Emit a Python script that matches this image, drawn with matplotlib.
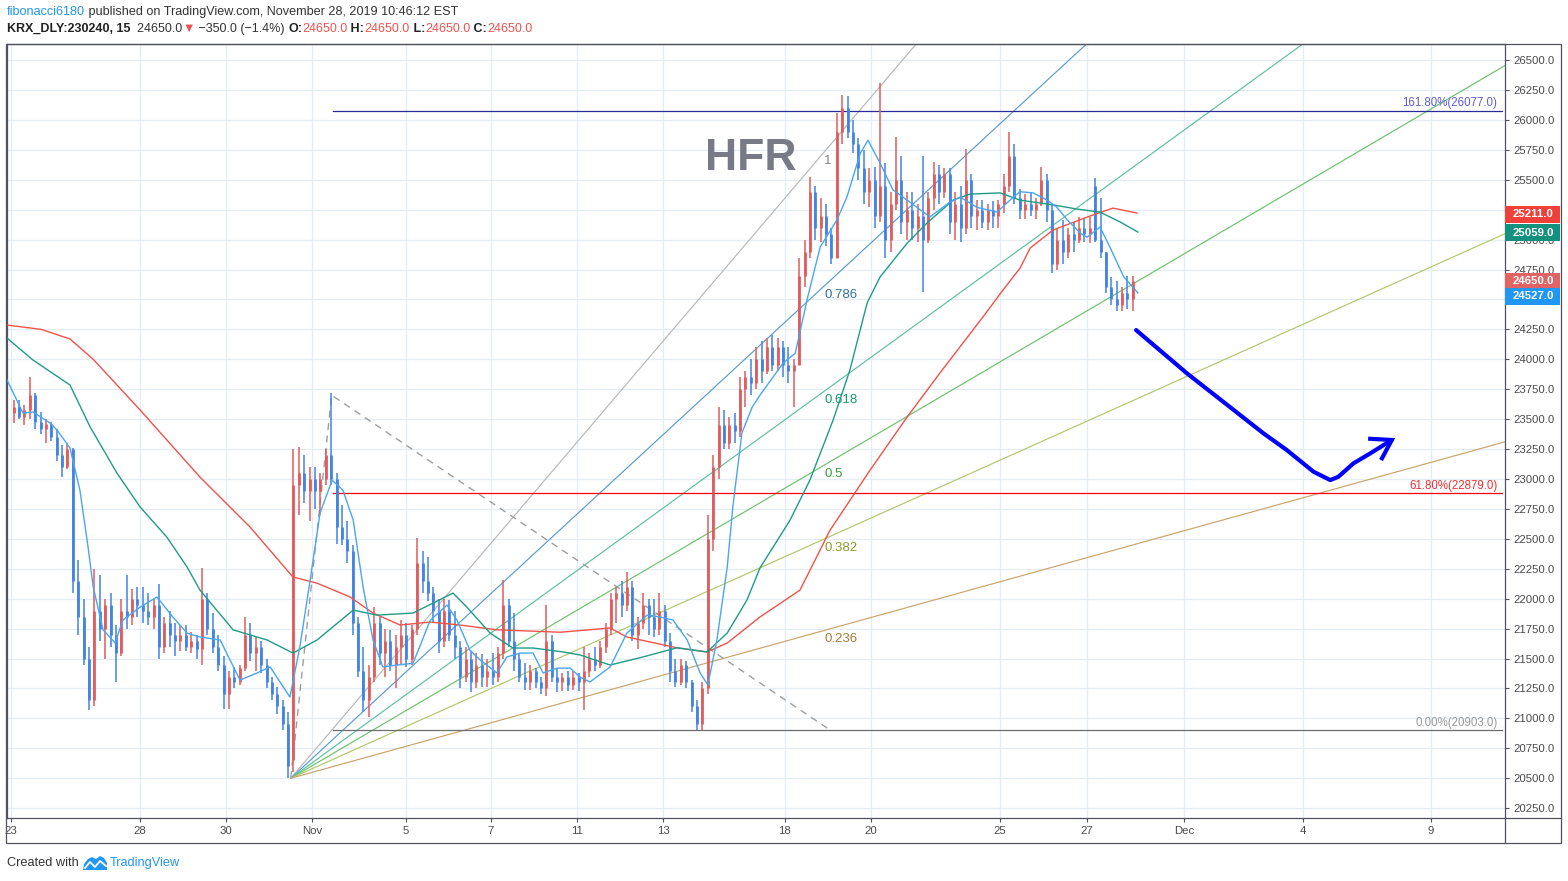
import numpy as np
import matplotlib
matplotlib.use("Agg")
import matplotlib.pyplot as plt
from matplotlib.patches import Rectangle, Polygon
from matplotlib.lines import Line2D
import matplotlib.transforms as mtransforms

plt.rcParams['font.family'] = ['Liberation Sans', 'DejaVu Sans']

# ---------------- data ----------------
bars_per_day = 8   # x unit = trading day (Oct 23 = 0)

opens = [
    23550, 23600, 23520, 23580, 23700, 23480, 23420, 23460,   # Oct 23
    23350, 23200, 23100, 23250, 22150, 21850, 21500, 21150,   # Oct 24
    21900, 21750, 21950, 21700, 21550, 21900, 21850, 22000,   # Oct 25
    21950, 21900, 21850, 21950, 21600, 21800, 21700, 21650,   # Oct 28
    21700, 21600, 21650, 21580, 22000, 21750, 21600, 21450,   # Oct 29
    21200, 21350, 21300, 21420, 21700, 21550, 21600, 21450,   # Oct 30
    21300, 21200, 21100, 20950, 20650, 22950, 23050, 22900,   # Oct 31
    23000, 22900, 23000, 23200, 23000, 22600, 22500, 22400,   # Nov 1
    21800, 21400, 21150, 21350, 21800, 21550, 21650, 21450,   # Nov 4
    21600, 21700, 21500, 21750, 22300, 22150, 22050, 21900,   # Nov 5
    21650, 21900, 21700, 21600, 21350, 21500, 21300, 21450,   # Nov 6
    21350, 21400, 21350, 21550, 21950, 21650, 21500, 21350,   # Nov 7
    21300, 21400, 21300, 21250, 21650, 21350, 21300, 21350,   # Nov 8
    21280, 21350, 21300, 21400, 21500, 21450, 21600, 21750,   # Nov 11
    22000, 22050, 21950, 22100, 21700, 21800, 21950, 21850,   # Nov 12
    21750, 21900, 21650, 21400, 21300, 21450, 21300, 21100,   # Nov 13
    20950, 21250, 22500, 23100, 23450, 23300, 23450, 23400,   # Nov 14
    23750, 23850, 23800, 24000, 23900, 24100, 23950, 24100,   # Nov 15
    23950, 23900, 23950, 24700, 24900, 25400, 25100, 25200,   # Nov 18
    25050, 24850, 25900, 26100, 25900, 25800, 25600, 25400,   # Nov 19
    25500, 25200, 25450, 25000, 25300, 25500, 25150, 25250,   # Nov 20
    25100, 25200, 25000, 25350, 25550, 25400, 25550, 25150,   # Nov 21
    25300, 25100, 25500, 25200, 25250, 25150, 25250, 25200,   # Nov 22
    25300, 25450, 25700, 25350, 25250, 25300, 25250, 25300,   # Nov 25
    25500, 25250, 24800, 25000, 24900, 25050, 25000, 25100,   # Nov 26
    25050, 25450, 25000, 24900, 24600, 24500, 24450, 24550,   # Nov 27
    24500,                                                    # Nov 28
]
highs = [
    23660, 23660, 23620, 23850, 23720, 23560, 23500, 23480,
    23420, 23280, 23300, 23260, 22320, 22000, 21600, 22250,
    22200, 22000, 22050, 21780, 22000, 22200, 22080, 22100,
    22100, 22050, 22000, 22120, 21850, 21900, 21800, 21780,
    21780, 21720, 21700, 22260, 22050, 21880, 21700, 21520,
    21400, 21430, 21450, 21850, 21800, 21680, 21650, 21500,
    21350, 21260, 21150, 21050, 23250, 23270, 23200, 23100,
    23100, 23050, 23250, 23720, 23050, 22780, 22650, 22450,
    21850, 21600, 21450, 21930, 21850, 21750, 21740, 21700,
    21820, 21800, 21780, 22510, 22400, 22350, 22100, 22000,
    22000, 21990, 21900, 21650, 21600, 21560, 21550, 21540,
    21500, 21550, 21600, 22160, 22000, 21880, 21550, 21460,
    21450, 21420, 21350, 21950, 21700, 21420, 21380, 21400,
    21400, 21380, 21600, 21550, 21600, 21650, 21800, 22050,
    22100, 22150, 22220, 22150, 21850, 22050, 22000, 22000,
    22050, 21950, 21710, 21500, 21500, 21480, 21320, 21150,
    21300, 22700, 23200, 23600, 23580, 23520, 23550, 23850,
    23900, 24000, 24100, 24150, 24180, 24200, 24180, 24150,
    24100, 24000, 24850, 25000, 25520, 25450, 25350, 25300,
    25100, 26060, 26210, 26200, 26000, 25850, 25750, 25600,
    25610, 26310, 25640, 25400, 25860, 25700, 25400, 25400,
    25300, 25700, 25400, 25650, 25620, 25600, 25600, 25400,
    25450, 25760, 25550, 25330, 25330, 25300, 25320, 25330,
    25550, 25900, 25800, 25420, 25380, 25400, 25350, 25610,
    25550, 25300, 25100, 25160, 25100, 25150, 25190, 25180,
    25190, 25515, 25350, 24900, 24690, 24650, 24600, 24700,
    24700,
]
lows = [
    23470, 23500, 23450, 23500, 23420, 23380, 23300, 23320,
    23150, 23020, 23080, 22050, 21700, 21450, 21070, 21100,
    21650, 21500, 21600, 21300, 21520, 21750, 21780, 21850,
    21800, 21780, 21750, 21500, 21550, 21600, 21520, 21560,
    21560, 21550, 21500, 21450, 21700, 21550, 21400, 21080,
    21080, 21250, 21280, 21400, 21480, 21400, 21380, 21250,
    21150, 21040, 20900, 20500, 20550, 22700, 22800, 22650,
    22750, 22700, 22950, 22950, 22460, 22450, 22300, 21700,
    21350, 21050, 21010, 21300, 21450, 21350, 21400, 21250,
    21450, 21430, 21450, 21700, 22050, 21980, 21800, 21550,
    21600, 21650, 21500, 21250, 21300, 21220, 21250, 21260,
    21260, 21280, 21300, 21500, 21600, 21400, 21300, 21240,
    21240, 21250, 21200, 21190, 21300, 21220, 21230, 21230,
    21240, 21230, 21070, 21350, 21400, 21420, 21550, 21700,
    21800, 21850, 21900, 21650, 21580, 21750, 21700, 21680,
    21700, 21600, 21300, 21260, 21280, 21250, 21050, 20900,
    20903, 21200, 22400, 23000, 23250, 23250, 23300, 23350,
    23600, 23700, 23750, 23800, 23880, 23900, 23900, 23850,
    23800, 23600, 23950, 24600, 24850, 25000, 24980, 24950,
    24800, 24850, 25800, 25850, 25720, 25500, 25300, 25270,
    25100, 25150, 24850, 24900, 25250, 25050, 25000, 25000,
    24980, 24560, 24970, 25250, 25300, 25350, 25050, 25000,
    24980, 25050, 25100, 25080, 25100, 25080, 25100, 25100,
    25220, 25400, 25300, 25170, 25170, 25200, 25170, 25280,
    25150, 24720, 24750, 24800, 24850, 24900, 24970, 24980,
    24970, 24980, 24850, 24550, 24450, 24400, 24400, 24420,
    24400,
]
closes = [
    23600, 23520, 23580, 23700, 23480, 23420, 23460, 23350,
    23200, 23100, 23250, 22150, 21850, 21500, 21150, 21900,
    21750, 21950, 21700, 21550, 21900, 21850, 22000, 21950,
    21900, 21850, 21950, 21600, 21800, 21700, 21650, 21700,
    21600, 21650, 21580, 22000, 21750, 21600, 21450, 21200,
    21350, 21300, 21420, 21700, 21550, 21600, 21450, 21300,
    21200, 21100, 20950, 20600, 22950, 23050, 22900, 23000,
    22900, 23000, 23200, 23000, 22600, 22500, 22400, 21800,
    21400, 21150, 21350, 21800, 21550, 21650, 21450, 21600,
    21700, 21500, 21750, 22300, 22150, 22050, 21900, 21650,
    21900, 21700, 21600, 21350, 21500, 21300, 21450, 21350,
    21400, 21350, 21550, 21950, 21650, 21500, 21350, 21300,
    21400, 21300, 21250, 21650, 21350, 21300, 21350, 21280,
    21350, 21300, 21400, 21500, 21450, 21600, 21750, 22000,
    22050, 21950, 22100, 21700, 21800, 21950, 21850, 21750,
    21900, 21650, 21400, 21300, 21450, 21300, 21100, 20950,
    21250, 22500, 23100, 23450, 23300, 23450, 23400, 23750,
    23850, 23800, 24000, 23900, 24100, 23950, 24100, 23950,
    23900, 23950, 24700, 24900, 25400, 25100, 25200, 25050,
    24850, 25900, 26100, 25900, 25800, 25600, 25400, 25500,
    25200, 25450, 25000, 25300, 25500, 25150, 25250, 25100,
    25200, 25000, 25350, 25550, 25400, 25550, 25150, 25300,
    25100, 25500, 25200, 25250, 25150, 25250, 25200, 25300,
    25450, 25700, 25350, 25250, 25300, 25250, 25300, 25500,
    25250, 24800, 25000, 24900, 25050, 25000, 25100, 25050,
    25100, 25000, 24900, 24600, 24500, 24450, 24550, 24500,
    24650,
]

# moving averages (x in trading days)
ma_fast_x = [-0.09, 0.28, 0.51, 0.91, 1.07, 1.37, 1.60, 1.79, 1.91, 2.14, 2.42, 2.60, 3.00, 3.39, 3.76,
             4.09, 4.39, 4.86, 5.32, 5.72, 6.02, 6.48, 6.71, 6.95, 7.18, 7.46, 7.71, 7.95, 8.18, 8.41,
             8.64, 8.97, 9.34, 9.74, 10.13, 10.36, 10.66, 10.90, 11.29, 11.52, 11.83, 12.13, 12.36, 12.69,
             12.99, 13.22, 13.45, 13.92, 14.31, 14.78, 15.08, 15.38, 15.71, 16.01, 16.19, 16.40, 16.64,
             16.77, 16.98, 17.22, 17.40, 17.94, 18.22, 18.51, 18.80, 19.19, 19.42, 19.73, 19.91, 20.19,
             20.49, 20.82, 21.12, 21.35, 21.82, 22.05, 22.44, 22.91, 23.21, 23.44, 23.75, 24.07, 24.30,
             24.54, 24.84, 25.00, 25.30, 25.53, 25.85, 26.18]
ma_fast_y = [23827, 23550, 23560, 23467, 23409, 23259, 22908, 22432, 22098, 21740, 21630, 21822, 21930,
             22014, 21847, 21713, 21680, 21655, 21320, 21380, 21430, 21178, 21596, 22156, 22716, 22990,
             22908, 22657, 22098, 21655, 21430, 21446, 21460, 21820, 21947, 21822, 21571, 21488, 21380,
             21513, 21546, 21546, 21380, 21420, 21420, 21346, 21304, 21430, 21713, 21863, 21847, 21822,
             21655, 21380, 21279, 21655, 22264, 22766, 23384, 23600, 23700, 23969, 24050, 24520, 24938,
             25165, 25355, 25720, 25830, 25640, 25415, 25330, 25250, 25190, 25315, 25355, 25270, 25230,
             25330, 25400, 25390, 25330, 25270, 25165, 25055, 25020, 25105, 24938, 24690, 24555]

ma_mid_x = [-0.09, 0.51, 1.37, 1.84, 2.46, 3.00, 3.62, 4.09, 4.39, 5.16, 5.95, 6.55, 7.11, 7.95, 8.50,
            9.34, 10.27, 10.59, 11.13, 11.66, 12.13, 12.83, 13.22, 13.92, 14.68, 15.47, 16.17, 16.64,
            17.10, 17.40, 18.10, 18.56, 19.10, 19.49, 19.89, 20.19, 20.82, 21.28, 21.89, 22.28, 22.98,
            23.44, 24.21, 24.77, 25.30, 25.77, 26.18]
ma_mid_y = [24177, 23994, 23785, 23434, 23050, 22766, 22515, 22265, 22072, 21740, 21655, 21546, 21655,
            21905, 21863, 21880, 22047, 21930, 21713, 21588, 21588, 21555, 21530, 21446, 21513, 21590,
            21555, 21713, 21990, 22256, 22657, 22990, 23492, 23910, 24470, 24687, 24970, 25138, 25330,
            25380, 25390, 25330, 25290, 25255, 25230, 25147, 25063]

ma_slow_x = [-0.09, 0.70, 1.37, 1.91, 3.00, 4.39, 5.55, 6.55, 7.11, 7.88, 8.41, 9.04, 9.74, 10.43, 11.29,
             12.76, 13.92, 14.31, 15.47, 16.17, 16.64, 17.40, 18.33, 19.03, 19.96, 20.82, 21.58, 22.58,
             23.05, 23.44, 23.68, 24.21, 25.00, 25.60, 26.16]
ma_slow_y = [24286, 24250, 24170, 24000, 23576, 23016, 22600, 22181, 22130, 22014, 21880, 21780, 21805,
             21780, 21740, 21720, 21755, 21680, 21590, 21555, 21630, 21847, 22072, 22573, 23075, 23518,
             23885, 24353, 24580, 24760, 24930, 25080, 25188, 25263, 25222]

# axis ticks
x_tick_pos = [0.0, 3.0, 5.0, 6.99, 9.18, 11.15, 13.15, 15.15, 17.98, 19.98, 22.98, 25.0, 27.25, 30.02, 32.99]
x_tick_labels = ["23", "28", "30", "Nov", "5", "7", "11", "13", "18", "20", "25", "27", "Dec", "4", "9"]
price_ticks = list(range(20250, 26501, 250))
hidden_price_labels = [25250, 24500]   # fully covered by the price tags

# drawings
fan_origin = (6.5, 20500)
fan_target = (18.96, 25760)
fan_levels = [1, 0.786, 0.618, 0.5, 0.382, 0.236]
fan_line_colors = ['#b8b8b8', '#5b9bd0', '#5cc0a0', '#6cc26c', '#b0c86a', '#c9a46c']
fan_label_colors = ['#808080', '#2f72a6', '#15996c', '#3a9a3a', '#8a9a2e', '#a07c38']
fan_labels = ["1", "0.786", "0.618", "0.5", "0.382", "0.236"]

ext_start = 7.48
ext_levels = [26077.0, 22879.0, 20903.0]
ext_labels = ["161.80%(26077.0)", "61.80%(22879.0)", "0.00%(20903.0)"]
ext_line_colors = ['#2a2a9a', '#ff0000', '#6e6e6e']
ext_text_colors = ['#5c5cd8', '#f03030', '#9a9a9a']

zigzag_x = [6.5, 7.45, 19.03]
zigzag_y = [20502, 23700, 20903]

arrow_x = [26.14, 27.32, 29.10, 29.64, 30.26, 30.65, 30.84, 31.19, 31.58, 32.08]
arrow_y = [24244, 23883, 23381, 23242, 23061, 22991, 23019, 23131, 23214, 23326]
arrow_head_x = [31.53, 32.08, 31.83]
arrow_head_y = [23337, 23326, 23158]

tag_values = [25211.0, 25059.0, 24650.0, 24527.0]
tag_colors = ['#f0403a', '#13917e', '#e06464', '#2196f3']

# ---------------- figure ----------------
W, H = 1568, 881
fig = plt.figure(figsize=(W / 100, H / 100), dpi=100)
fig.patch.set_facecolor('white')
ax = fig.add_axes([7 / W, 1 - 818 / H, (1505 - 7) / W, (818 - 44) / H])
ax.set_facecolor('white')

XMIN, XMAX = -0.093, 34.71
YMIN, YMAX = 20168, 26634
ax.set_xlim(XMIN, XMAX)
ax.set_ylim(YMIN, YMAX)

GRID = '#e3edf3'
FRAME = '#50535e'
ax.set_axisbelow(True)
ax.grid(True, color=GRID, lw=0.9)
for s in ax.spines.values():
    s.set_color(FRAME)
    s.set_linewidth(0.9)

ax.yaxis.tick_right()
ax.set_yticks(price_ticks)
ax.set_yticklabels(["" if v in hidden_price_labels else f"{v:.1f}" for v in price_ticks])
ax.set_xticks(x_tick_pos)
ax.set_xticklabels(x_tick_labels)
ax.tick_params(axis='y', length=3, width=0.8, color=FRAME, labelsize=8.2, labelcolor='#4a4a4a', pad=3)
ax.tick_params(axis='x', length=3, width=0.8, color=FRAME, labelsize=8.2, labelcolor='#4a4a4a', pad=3)

# fan lines
p0x, p0y = fan_origin
slope1 = (fan_target[1] - p0y) / (fan_target[0] - p0x)
for lvl, lc, tc, lab in zip(fan_levels, fan_line_colors, fan_label_colors, fan_labels):
    xs = np.array([p0x, XMAX])
    ys = p0y + lvl * slope1 * (xs - p0x)
    ax.plot(xs, ys, color=lc, lw=0.85, zorder=2)
    lx = fan_target[0] - 0.07
    ly = p0y + lvl * slope1 * (lx - p0x)
    ax.text(lx, ly - 25, lab, color=tc, fontsize=9.5, ha='left', va='top', zorder=6)

# fib extension levels
for lev, lab, lc, tc in zip(ext_levels, ext_labels, ext_line_colors, ext_text_colors):
    ax.plot([ext_start, XMAX - 0.07], [lev, lev], color=lc, lw=0.9, zorder=3)
    ax.text(34.53, lev + 10, lab, color=tc, fontsize=8.3, ha='right', va='bottom', zorder=6)

ax.plot(zigzag_x, zigzag_y, color='#9e9e9e', lw=1.0, ls=(0, (5, 4)), zorder=3)

# candles
o = np.array(opens, float)
h = np.array(highs, float)
l = np.array(lows, float)
c = np.array(closes, float)
xb = (np.arange(len(o)) + 0.5) / bars_per_day
UP, DOWN = '#e05c5e', '#4383e4'
cols = np.where(c >= o, UP, DOWN)
ax.vlines(xb, l, h, colors=cols, lw=1.1, zorder=4)
ax.vlines(xb, np.minimum(o, c), np.maximum(o, c), colors=cols, lw=2.0, zorder=4)

# moving averages
ax.plot(ma_slow_x, ma_slow_y, color='#f0524a', lw=1.0, zorder=5)
ax.plot(ma_mid_x, ma_mid_y, color='#1f9c86', lw=1.0, zorder=5)
ax.plot(ma_fast_x, ma_fast_y, color='#4aa6f0', lw=1.0, zorder=5)

# HFR text
ax.text(16.12, 25681, "HFR", color='#787b86', fontsize=32, fontweight='bold', ha='left', va='center', zorder=6)

# hand-drawn arrow
ax.plot(arrow_x, arrow_y, color='#0000ff', lw=3.0, solid_capstyle='round', solid_joinstyle='round', zorder=7)
ax.plot(arrow_head_x, arrow_head_y, color='#0000ff', lw=3.0, solid_capstyle='butt', solid_joinstyle='miter', zorder=7)

# price tags on right axis
blend = mtransforms.blended_transform_factory(ax.transAxes, ax.transData)
half = 8.5 * (YMAX - YMIN) / 774.0
axw = 1498.0
for v, col in zip(tag_values, tag_colors):
    ax.add_patch(Rectangle((1.0, v - half), 55 / axw, 2 * half, transform=blend, facecolor=col,
                           edgecolor='none', clip_on=False, zorder=10))
    ax.text(1.0 + 8 / axw, v, f"{v:.1f}", transform=blend, color='white', fontsize=8.2,
            fontweight='bold', ha='left', va='center', clip_on=False, zorder=11)

# outer frame
fig.add_artist(Rectangle((6 / W, 1 - 843 / H), 1555 / W, 799 / H, transform=fig.transFigure,
                         fill=False, edgecolor=FRAME, lw=0.9))
fig.add_artist(Line2D([1505 / W, 1505 / W], [1 - 843 / H, 1 - 818 / H], transform=fig.transFigure,
                      color=FRAME, lw=0.9))
fig.add_artist(Line2D([1505 / W, 1561 / W], [1 - 818 / H, 1 - 818 / H], transform=fig.transFigure,
                      color=FRAME, lw=0.9))

# header and footer text
renderer = fig.canvas.get_renderer()


def text_runs(x, y, parts, size):
    for txt, col, wt in parts:
        t = fig.text(x / W, 1 - y / H, txt, color=col, fontsize=size, fontweight=wt, ha='left', va='center')
        x += t.get_window_extent(renderer=renderer).width


DARK = '#333333'
RED = '#ef5350'
BLUE = '#2196f3'
text_runs(7, 12, [("fibonacci6180", BLUE, 'normal'),
                  (" published on TradingView.com, November 28, 2019 10:46:12 EST", DARK, 'normal')], 9.1)
text_runs(7, 29, [("KRX_DLY:230240, 15", '#222222', 'bold'),
                  ("  24650.0", DARK, 'normal'),
                  ("\u25BC", RED, 'normal'),
                  (" \u2212350.0 (\u22121.4%) ", DARK, 'normal'),
                  ("O:", '#222222', 'bold'), ("24650.0", RED, 'normal'),
                  (" H:", '#222222', 'bold'), ("24650.0", RED, 'normal'),
                  (" L:", '#222222', 'bold'), ("24650.0", RED, 'normal'),
                  (" C:", '#222222', 'bold'), ("24650.0", RED, 'normal')], 9.0)

fig.text(7 / W, 1 - 863 / H, "Created with", color=DARK, fontsize=9.2, ha='left', va='center')
logo = [(83, 870), (84, 864), (88, 859), (92, 857), (96, 859), (100, 856), (104, 858), (107, 863), (107, 870)]
fig.add_artist(Polygon([(px / W, 1 - py / H) for px, py in logo], closed=True, transform=fig.transFigure,
                       facecolor=BLUE, edgecolor='none'))
zz = [(85, 868), (90, 862), (95, 867), (100, 861), (106, 866)]
fig.add_artist(Line2D([p[0] / W for p in zz], [1 - p[1] / H for p in zz], transform=fig.transFigure,
                      color='white', lw=1.3))
fig.text(110 / W, 1 - 863 / H, "TradingView", color=BLUE, fontsize=9.2, ha='left', va='center')

fig.savefig("out.png", dpi=100, facecolor='white')
